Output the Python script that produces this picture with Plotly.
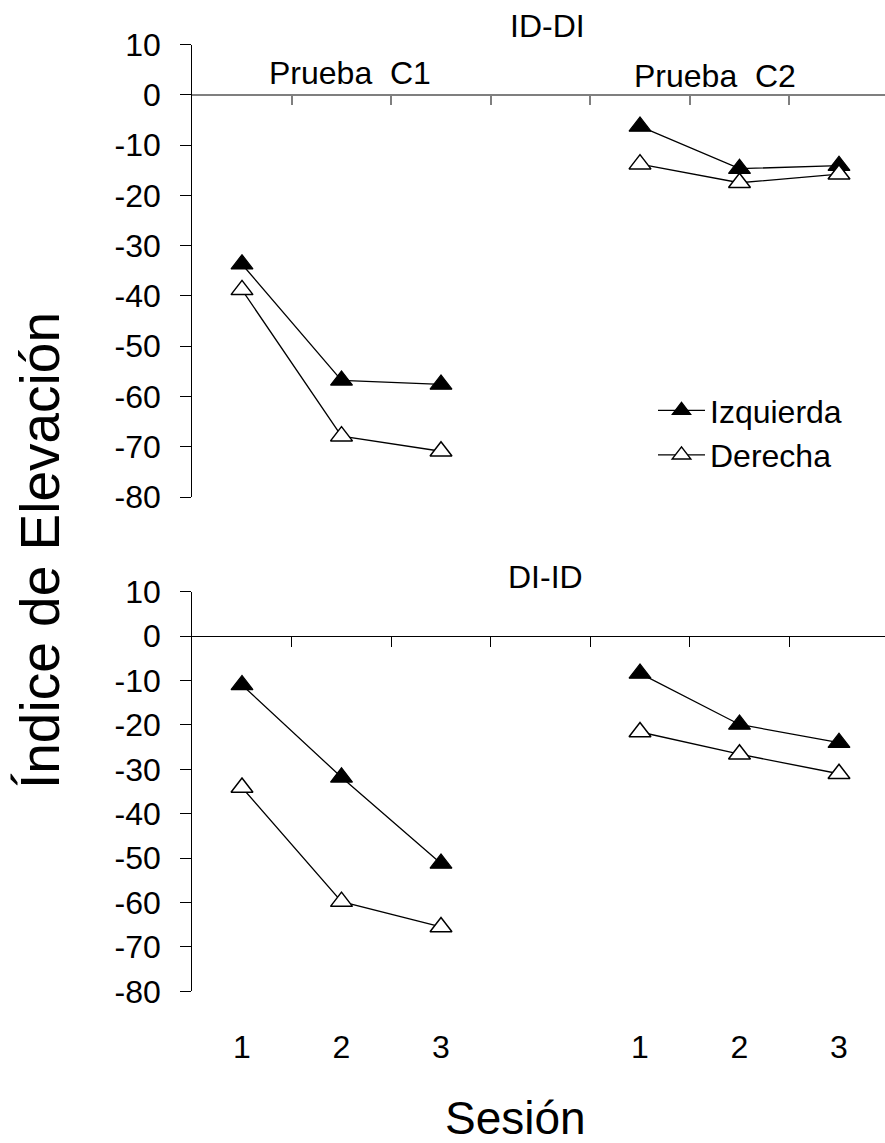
import plotly.graph_objects as go

# ---- data ----
sesiones = ["1", "2", "3"]
pruebas = ["Prueba  C1", "Prueba  C2"]
series_names = ["Izquierda", "Derecha"]

id_di_izq_c1 = [-33.7, -56.8, -57.6]
id_di_izq_c2 = [-6.3, -14.7, -14.1]
id_di_der_c1 = [-38.8, -67.9, -70.9]
id_di_der_c2 = [-13.8, -17.5, -15.8]

di_id_izq_c1 = [-11.0, -31.8, -51.2]
di_id_izq_c2 = [-8.4, -19.9, -24.0]
di_id_der_c1 = [-34.1, -59.8, -65.5]
di_id_der_c2 = [-21.6, -26.6, -31.0]

y_ticks = [10, 0, -10, -20, -30, -40, -50, -60, -70, -80]

# ---- layout constants ----
W, H = 885, 1143
FONT = "Liberation Sans, Arial, sans-serif"
YMIN, YMAX = -80, 10
XMIN, XMAX = -0.5, 6.4623
xdom = [192.25 / W, 1.0]
top_dom = [1 - 497.0 / H, 1 - 44.5 / H]
bot_dom = [1 - 991.3 / H, 1 - 591.7 / H]

# category positions: C1 sessions at 0..2, gap, C2 sessions at 4..6
c1_pos = list(range(len(sesiones)))
c2_pos = [p + len(sesiones) + 1 for p in c1_pos]
x_all = c1_pos + [None] + c2_pos
boundaries = [p + 0.5 for p in range(len(c1_pos) + len(c2_pos))]


def zero_pos(dom):
    return dom[0] + (0 - YMIN) / (YMAX - YMIN) * (dom[1] - dom[0])


def joined(a, b):
    return a + [None] + b


fig = go.Figure()

filled = dict(symbol="triangle-up", size=19, color="black",
              line=dict(color="black", width=1.2))
hollow = dict(symbol="triangle-up", size=19, color="white",
              line=dict(color="black", width=1.5))
ln = dict(color="black", width=1.3)

fig.add_trace(go.Scatter(x=x_all, y=joined(id_di_izq_c1, id_di_izq_c2),
                         mode="lines+markers", name=series_names[0],
                         marker=filled, line=ln, xaxis="x", yaxis="y"))
fig.add_trace(go.Scatter(x=x_all, y=joined(id_di_der_c1, id_di_der_c2),
                         mode="lines+markers", name=series_names[1],
                         marker=hollow, line=ln, xaxis="x", yaxis="y"))
fig.add_trace(go.Scatter(x=x_all, y=joined(di_id_izq_c1, di_id_izq_c2),
                         mode="lines+markers", name=series_names[0],
                         marker=filled, line=ln, xaxis="x2", yaxis="y2",
                         showlegend=False))
fig.add_trace(go.Scatter(x=x_all, y=joined(di_id_der_c1, di_id_der_c2),
                         mode="lines+markers", name=series_names[1],
                         marker=hollow, line=ln, xaxis="x2", yaxis="y2",
                         showlegend=False))
# empty trace so the session-label axis gets drawn
fig.add_trace(go.Scatter(x=[None], y=[None], mode="markers", xaxis="x3",
                         yaxis="y2", showlegend=False, hoverinfo="skip"))

zero_axis_common = dict(domain=xdom, range=[XMIN, XMAX], anchor="free",
                        showline=True, ticks="outside", tickvals=boundaries,
                        showticklabels=False, showgrid=False, zeroline=False,
                        fixedrange=True)
y_common = dict(range=[YMIN, YMAX], tickvals=y_ticks,
                ticktext=[str(v) for v in y_ticks], showline=True,
                linecolor="black", linewidth=1.2, ticks="outside",
                ticklen=11, tickcolor="black", tickwidth=1.2,
                showgrid=False, zeroline=False,
                tickfont=dict(family=FONT, size=32, color="black"),
                ticklabelstandoff=13, fixedrange=True)

fig.update_layout(
    width=W, height=H,
    margin=dict(l=0, r=0, t=0, b=0, autoexpand=False),
    paper_bgcolor="white", plot_bgcolor="rgba(0,0,0,0)",
    font=dict(family=FONT, size=32, color="black"),
    xaxis=dict(**zero_axis_common, position=zero_pos(top_dom),
               linecolor="#7f7f7f", linewidth=2, ticklen=9,
               tickcolor="#7f7f7f", tickwidth=1.5),
    yaxis=dict(**y_common, domain=top_dom, anchor="x"),
    xaxis2=dict(**zero_axis_common, position=zero_pos(bot_dom),
                linecolor="black", linewidth=1.2, ticklen=10,
                tickcolor="black", tickwidth=1.2),
    yaxis2=dict(**y_common, domain=bot_dom, anchor="x2"),
    xaxis3=dict(domain=xdom, range=[XMIN, XMAX], overlaying="x2",
                anchor="y2", side="bottom", showline=False, ticks="",
                tickvals=c1_pos + c2_pos, ticktext=sesiones + sesiones,
                tickfont=dict(family=FONT, size=32, color="black"),
                ticklabelstandoff=34, showgrid=False, zeroline=False,
                fixedrange=True),
    legend=dict(x=653 / W, y=1 - 383 / H, xanchor="left", yanchor="top",
                bgcolor="rgba(0,0,0,0)", font=dict(family=FONT, size=32),
                itemwidth=47, tracegroupgap=0),
    showlegend=True,
)


def ann(text, xpx, ypx, size=32, angle=0):
    fig.add_annotation(text=text, x=xpx / W, y=1 - ypx / H, xref="paper",
                       yref="paper", xanchor="center", yanchor="middle",
                       showarrow=False, textangle=angle,
                       font=dict(family=FONT, size=size, color="black"))


ann("ID-DI", 547, 26)
ann(pruebas[0], 350, 73)
ann(pruebas[1], 715, 76)
ann("DI-ID", 545, 577)
ann("Sesión", 515, 1118, size=46)
ann("Índice de Elevación", 40, 551, size=55, angle=-90)

fig.write_html("out.html")
